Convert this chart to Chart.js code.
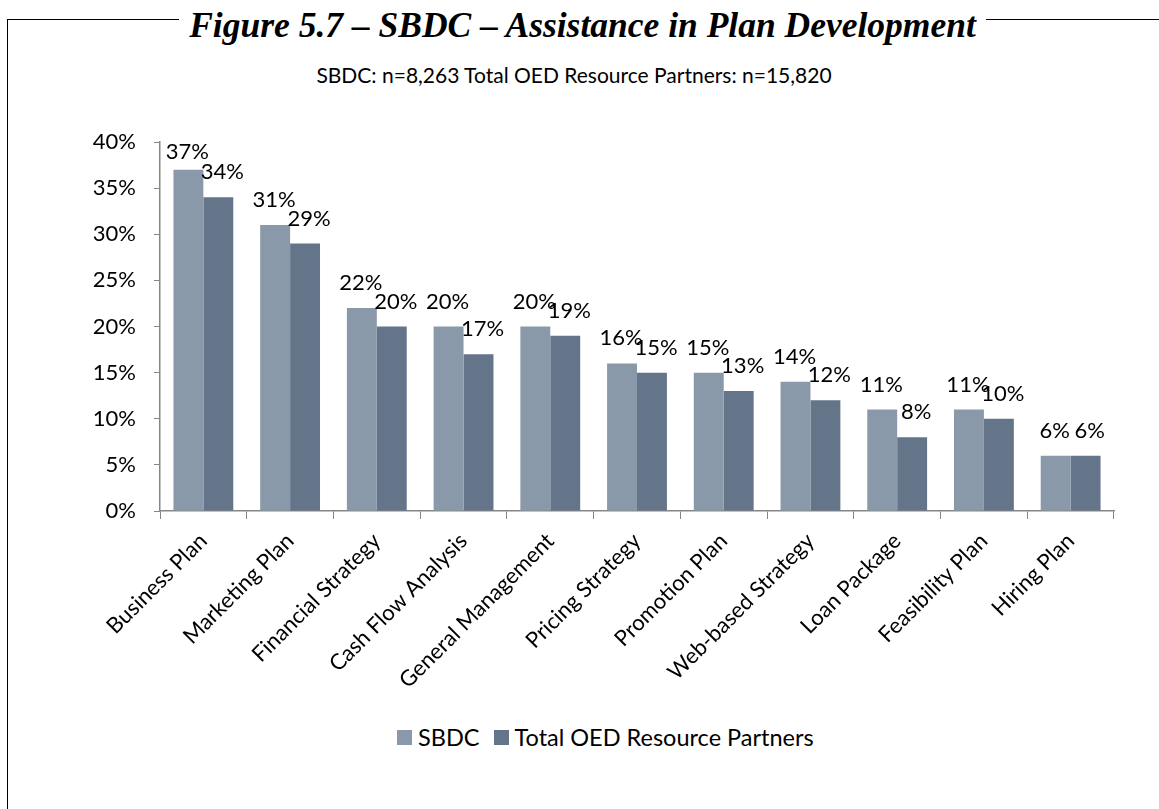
<!DOCTYPE html>
<html>
<head>
<meta charset="utf-8">
<script src="https://cdn.jsdelivr.net/npm/chart.js@4.4.0/dist/chart.umd.min.js"></script>
<style>
    body { margin: 0; background: #fff; width: 1159px; height: 809px; position: relative; overflow: hidden; }
    #frame { position: absolute; left: 7px; top: 19px; width: 1160px; height: 800px; border-left: 1.5px solid #000; border-top: 1.5px solid #000; }
    #title {
        position: absolute; left: 0; width: 1165px; top: 3px; text-align: center;
        font-family: "Liberation Serif", serif; font-weight: bold; font-style: italic; font-size: 35.5px; line-height: 44px;
    }
    #title span { background: #fff; padding: 0 10px; }
    #sub { position: absolute; left: 0; width: 1148px; top: 62px; text-align: center; font-family: Lato, sans-serif; font-size: 21px; }
    #wrap { position: absolute; left: 0; top: 100px; width: 1159px; height: 620px; }
    #legend { position: absolute; left: 397px; top: 723px; font-family: Lato, sans-serif; font-size: 23.5px; display: flex; align-items: center; white-space: nowrap; }
    #legend .item { display: flex; align-items: center; margin-right: 14px; }
    #legend .box { width: 15px; height: 15px; margin-right: 6px; }
</style>
</head>
<body>
<div id="frame"></div>
<div id="title"><span>Figure 5.7 – SBDC – Assistance in Plan Development</span></div>
<div id="sub">SBDC: n=8,263 Total OED Resource Partners: n=15,820</div>
<div id="wrap"><canvas id="chart"></canvas></div>
<div id="legend"></div>

<script>
// DATA
let categories = ["Business Plan", "Marketing Plan", "Financial Strategy", "Cash Flow Analysis",
    "General Management", "Pricing Strategy", "Promotion Plan", "Web-based Strategy",
    "Loan Package", "Feasibility Plan", "Hiring Plan"];
let sbdc = [37, 31, 22, 20, 20, 16, 15, 14, 11, 11, 6];
let totalOed = [34, 29, 20, 17, 19, 15, 13, 12, 8, 10, 6];
let yTicks = [0, 5, 10, 15, 20, 25, 30, 35, 40];

Chart.defaults.font.family = "Lato, sans-serif";
Chart.defaults.color = "#000";

// value labels above bars
const barLabels = {
    id: "barLabels",
    afterDatasetsDraw(chart) {
        let ctx = chart.ctx;
        ctx.save();
        ctx.font = "22px Lato, sans-serif";
        ctx.fillStyle = "#000";
        ctx.textAlign = "center";
        ctx.textBaseline = "middle";
        chart.data.datasets.forEach((ds, i) => {
            chart.getDatasetMeta(i).data.forEach((bar, j) => {
                let y = Math.max(bar.y - 25, chart.chartArea.top + 10);
                let x = bar.x + (i === 1 ? 4 : -1);
                ctx.fillText(ds.data[j] + "%", x, y);
            });
        });
        ctx.restore();
    }
};

// legend built from the datasets, placed in html
const htmlLegend = {
    id: "htmlLegend",
    afterUpdate(chart) {
        let box = document.getElementById("legend");
        box.innerHTML = "";
        chart.data.datasets.forEach(ds => {
            let item = document.createElement("div");
            item.className = "item";
            item.innerHTML = `<span class="box" style="background:${ds.backgroundColor}"></span><span>${ds.label}</span>`;
            box.appendChild(item);
        });
    }
};

new Chart(document.getElementById("chart"), {
    type: "bar",
    data: {
        labels: categories,
        datasets: [
            { label: "SBDC", data: sbdc, backgroundColor: "#8a99a9", borderColor: "#8a99a9",
              categoryPercentage: 0.69, barPercentage: 1.0 },
            { label: "Total OED Resource Partners", data: totalOed, backgroundColor: "#64758a", borderColor: "#64758a",
              categoryPercentage: 0.69, barPercentage: 1.0 }
        ]
    },
    options: {
        responsive: true,
        maintainAspectRatio: false,
        animation: false,
        layout: { padding: { left: 0, right: 45, top: 42, bottom: 0 } },
        plugins: {
            tooltip: { enabled: false },
            legend: { display: false }
        },
        scales: {
            x: {
                grid: { display: true, drawOnChartArea: false, drawTicks: true, tickLength: 8, color: "#868686", offset: true },
                border: { display: true, color: "#868686", width: 1.5 },
                ticks: { minRotation: 45, maxRotation: 45, autoSkip: false, font: { size: 22 }, padding: 9 },
                afterFit: s => { s.height = 209; }
            },
            y: {
                min: 0, max: 40,
                afterBuildTicks: s => { s.ticks = yTicks.map(v => ({ value: v })); },
                grid: { display: true, drawOnChartArea: false, drawTicks: true, tickLength: 6, color: "#868686" },
                border: { display: true, color: "#868686", width: 1.5 },
                ticks: { font: { size: 22 }, padding: 18, callback: v => v + "%" },
                afterFit: s => { s.width = 160; }
            }
        }
    },
    plugins: [barLabels, htmlLegend]
});
</script>
</body>
</html>
